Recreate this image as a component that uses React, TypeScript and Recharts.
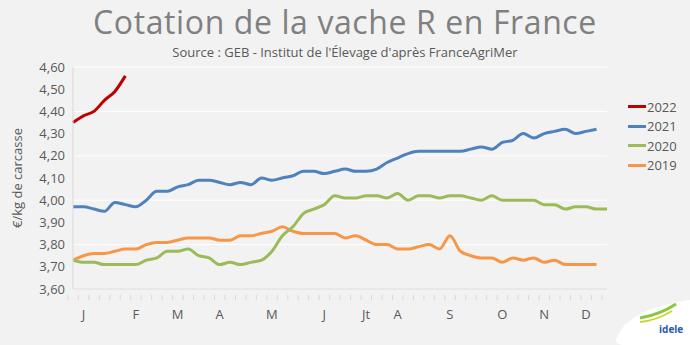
import { LineChart, Line, XAxis, YAxis, CartesianGrid } from "recharts";

const weeks = Array.from({ length: 52 }, (_, i) => "S" + (i + 1));

// label du mois affiché sous certaines semaines
const monthTicks: Record<number, string> = {
  1: "J", 6: "F", 10: "M", 14: "A", 19: "M", 24: "J",
  28: "Jt", 31: "A", 36: "S", 41: "O", 45: "N", 49: "D",
};

const yTicks = [3.6, 3.7, 3.8, 3.9, 4.0, 4.1, 4.2, 4.3, 4.4, 4.5, 4.6];

const v2022 = [4.35, 4.38, 4.4, 4.45, 4.49, 4.56];

const v2021 = [
  3.97, 3.97, 3.96, 3.95, 3.99, 3.98, 3.97, 4.0, 4.04, 4.04,
  4.06, 4.07, 4.09, 4.09, 4.08, 4.07, 4.08, 4.07, 4.1, 4.09,
  4.1, 4.11, 4.13, 4.13, 4.12, 4.13, 4.14, 4.13, 4.13, 4.14,
  4.17, 4.19, 4.21, 4.22, 4.22, 4.22, 4.22, 4.22, 4.23, 4.24,
  4.23, 4.26, 4.27, 4.3, 4.28, 4.3, 4.31, 4.32, 4.3, 4.31,
  4.32,
];

const v2020 = [
  3.73, 3.72, 3.72, 3.71, 3.71, 3.71, 3.71, 3.73, 3.74, 3.77,
  3.77, 3.78, 3.75, 3.74, 3.71, 3.72, 3.71, 3.72, 3.73, 3.77,
  3.84, 3.88, 3.94, 3.96, 3.98, 4.02, 4.01, 4.01, 4.02, 4.02,
  4.01, 4.03, 4.0, 4.02, 4.02, 4.01, 4.02, 4.02, 4.01, 4.0,
  4.02, 4.0, 4.0, 4.0, 4.0, 3.98, 3.98, 3.96, 3.97, 3.97,
  3.96, 3.96,
];

const v2019 = [
  3.73, 3.75, 3.76, 3.76, 3.77, 3.78, 3.78, 3.8, 3.81, 3.81,
  3.82, 3.83, 3.83, 3.83, 3.82, 3.82, 3.84, 3.84, 3.85, 3.86,
  3.88, 3.86, 3.85, 3.85, 3.85, 3.85, 3.83, 3.84, 3.82, 3.8,
  3.8, 3.78, 3.78, 3.79, 3.8, 3.78, 3.84, 3.77, 3.75, 3.74,
  3.74, 3.72, 3.74, 3.73, 3.74, 3.72, 3.73, 3.71, 3.71, 3.71,
  3.71,
];

const data = weeks.map((w, i) => ({
  semaine: w,
  y2022: v2022[i],
  y2021: v2021[i],
  y2020: v2020[i],
  y2019: v2019[i],
}));

const series = [
  { key: "y2022", name: "2022", color: "#c00000" },
  { key: "y2021", name: "2021", color: "#4f81bd" },
  { key: "y2020", name: "2020", color: "#9bbb59" },
  { key: "y2019", name: "2019", color: "#f79646" },
];

const font = "'Open Sans', 'DejaVu Sans', sans-serif";
const textColor = "#595959";

const WeekTick = (props: any) => {
  const { x, y, index } = props;
  const label = monthTicks[index];
  return (
    <g>
      <line x1={x - 5.1} x2={x - 5.1} y1={y - 2} y2={y + 3} stroke="#d9d9d9" />
      {label && (
        <text x={x} y={y + 22} textAnchor="middle" fill={textColor} fontSize={13} fontFamily={font}>
          {label}
        </text>
      )}
    </g>
  );
};

export default function App() {
  return (
    <div style={{ position: "absolute", left: 0, top: 0, width: 690, height: 345, background: "#f2f2f2", overflow: "hidden" }}>
      <div style={{ position: "absolute", left: 0, top: 0, width: 690, textAlign: "center", fontFamily: font, fontSize: 32, color: "#808080", letterSpacing: 0.6, whiteSpace: "nowrap" }}>
        Cotation de la vache R en France
      </div>
      <div style={{ position: "absolute", left: 0, top: 43, width: 690, textAlign: "center", fontFamily: font, fontSize: 13, color: textColor, whiteSpace: "nowrap" }}>
        Source : GEB - Institut de l'Élevage d'après FranceAgriMer
      </div>
      <div style={{ position: "absolute", left: 0, top: 0 }}>
        <LineChart width={690} height={345} data={data} margin={{ top: 67, right: 83, bottom: 26, left: 13 }}>
          <CartesianGrid vertical={false} stroke="#ffffff" strokeWidth={1} />
          <XAxis
            dataKey="semaine"
            interval={0}
            tick={<WeekTick />}
            tickLine={false}
            axisLine={{ stroke: "#d9d9d9" }}
          />
          <YAxis
            width={60}
            domain={[3.6, 4.6]}
            ticks={yTicks}
            tickFormatter={(v: number) => v.toFixed(2).replace(".", ",")}
            tick={{ fill: textColor, fontSize: 13, fontFamily: font }}
            tickLine={false}
            axisLine={{ stroke: "#d9d9d9" }}
            label={{ value: "€/kg de carcasse", angle: -90, position: "insideLeft", offset: 4, style: { fill: textColor, fontSize: 13, fontFamily: font, textAnchor: "middle" } }}
          />
          {[...series].reverse().map((s) => (
            <Line
              key={s.key}
              type="monotone"
              dataKey={s.key}
              name={s.name}
              stroke={s.color}
              strokeWidth={3}
              dot={false}
              isAnimationActive={false}
            />
          ))}
        </LineChart>
      </div>
      <div style={{ position: "absolute", left: 628, top: 97, fontFamily: font, fontSize: 13, color: textColor }}>
        {series.map((s) => (
          <div key={s.key} style={{ display: "flex", alignItems: "center", height: 19.5 }}>
            <span style={{ display: "inline-block", width: 18, height: 3, background: s.color, marginRight: 1 }} />
            <span>{s.name}</span>
          </div>
        ))}
      </div>
      <svg style={{ position: "absolute", left: 612, top: 296 }} width={78} height={49}>
        <path d="M6 40 C 14 18, 50 8, 78 4 L 78 49 L 12 49 C 4 49, 2 44, 6 40 Z" fill="#ffffff" />
        <path d="M28 22 C 40 20, 52 16, 64 8" stroke="#8cc63f" strokeWidth={3} fill="none" />
        <path d="M28 26 C 40 25, 50 21, 60 15" stroke="#c9d72a" strokeWidth={2} fill="none" />
        <text x={47} y={37} fontSize={10} fontWeight="bold" fill="#2b5aa8" fontFamily={font}>idele</text>
      </svg>
    </div>
  );
}
